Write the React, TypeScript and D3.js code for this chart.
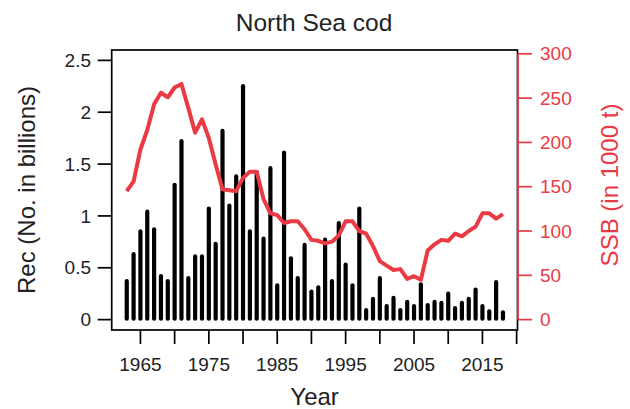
import React from "react";
import * as d3 from "d3";

// North Sea cod: recruitment (bars, left axis) and spawning stock biomass (line, right axis)
const years: number[] = d3.range(1963, 2019);

const recruitment: number[] = [
  0.39, 0.65, 0.87, 1.06, 0.89, 0.44, 0.39, 1.32, 1.74, 0.42,
  0.63, 0.63, 1.09, 0.75, 1.84, 1.12, 1.40, 2.27, 0.87, 1.44,
  0.80, 1.48, 0.35, 1.63, 0.61, 0.42, 0.74, 0.29, 0.33, 0.79,
  0.39, 0.95, 0.55, 0.35, 1.09, 0.11, 0.22, 0.42, 0.15, 0.23,
  0.11, 0.19, 0.15, 0.36, 0.16, 0.19, 0.18, 0.27, 0.13, 0.18,
  0.22, 0.31, 0.15, 0.10, 0.38, 0.09,
];

const ssb: number[] = [
  145, 156, 192, 214, 243, 256, 251, 262, 266, 239,
  211, 226, 205, 175, 147, 146, 145, 160, 167, 167,
  136, 120, 118, 109, 111, 111, 102, 90, 89, 86,
  88, 95, 111, 111, 100, 97, 83, 66, 61, 56,
  57, 46, 49, 45, 78, 85, 90, 89, 97, 94,
  100, 105, 120, 120, 114, 119,
];

const recTicks: number[] = [0, 0.5, 1, 1.5, 2, 2.5];
const recTickLabels: string[] = ["0", "0.5", "1", "1.5", "2", "2.5"];
const ssbTicks: number[] = [0, 50, 100, 150, 200, 250, 300];
const yearTicks: number[] = d3.range(1965, 2021, 5);
const yearLabels: number[] = [1965, 1975, 1985, 1995, 2005, 2015];

const W = 630;
const H = 409;
const plot = { left: 111.7, right: 517.5, top: 50, bottom: 330 };
const RED = "#EA3A44";
const INK = "#222222";
const FONT = "'Liberation Sans', Arial, Helvetica, sans-serif";

export default function App() {
  const x = d3.scaleLinear().domain([1960.8, 2020.2]).range([plot.left, 518]);
  const recMax = 2.5;
  const yRec = d3
    .scaleLinear()
    .domain([-0.04 * recMax, recMax * 1.04])
    .range([plot.bottom, plot.top]);
  const ssbMax = 292.6;
  const ySsb = d3
    .scaleLinear()
    .domain([-0.04 * ssbMax, ssbMax * 1.04])
    .range([plot.bottom, plot.top]);

  const ssbLine = d3
    .line<number>()
    .x((_, i) => x(years[i]))
    .y((d) => ySsb(d));

  const axisX = 518;
  const midY = (plot.top + plot.bottom) / 2;

  return (
    <svg
      width={W}
      height={H}
      style={{ position: "absolute", left: 0, top: 0, background: "#fff" }}
      fontFamily={FONT}
    >
      {/* title */}
      <text x={314} y={31} textAnchor="middle" fontSize={24.5} fill={INK}>
        North Sea cod
      </text>

      {/* recruitment bars */}
      <g stroke="#000" strokeWidth={4.2} strokeLinecap="round">
        {recruitment.map((v, i) => (
          <line
            key={years[i]}
            x1={x(years[i])}
            x2={x(years[i])}
            y1={yRec(0) - 1}
            y2={yRec(v) + 2}
          />
        ))}
      </g>

      {/* SSB line */}
      <path
        d={ssbLine(ssb) ?? ""}
        fill="none"
        stroke={RED}
        strokeWidth={4}
        strokeLinejoin="round"
      />

      {/* plot frame */}
      <rect
        x={plot.left}
        y={plot.top}
        width={plot.right - plot.left}
        height={plot.bottom - plot.top}
        fill="none"
        stroke="#000"
        strokeWidth={1.7}
      />

      {/* left axis */}
      <g stroke="#000" strokeWidth={1.7}>
        {recTicks.map((t) => (
          <line key={t} x1={plot.left - 14} x2={plot.left} y1={yRec(t)} y2={yRec(t)} />
        ))}
      </g>
      <g fontSize={19} fill={INK} textAnchor="end">
        {recTicks.map((t, i) => (
          <text key={t} x={91} y={yRec(t)} dy="0.35em">
            {recTickLabels[i]}
          </text>
        ))}
      </g>
      <text
        transform={`translate(35,${midY}) rotate(-90)`}
        textAnchor="middle"
        fontSize={24}
        fill={INK}
      >
        Rec (No. in billions)
      </text>

      {/* right axis */}
      <g stroke={RED} strokeWidth={1.7}>
        <line x1={axisX} x2={axisX} y1={ySsb(0)} y2={ySsb(300)} />
        {ssbTicks.map((t) => (
          <line key={t} x1={axisX} x2={axisX + 14} y1={ySsb(t)} y2={ySsb(t)} />
        ))}
      </g>
      <g fontSize={19} fill={RED} textAnchor="start">
        {ssbTicks.map((t) => (
          <text key={t} x={540} y={ySsb(t)} dy="0.35em">
            {t}
          </text>
        ))}
      </g>
      <text
        transform={`translate(618,${midY - 5}) rotate(-90)`}
        textAnchor="middle"
        fontSize={24}
        fill={RED}
      >
        SSB (in 1000 t)
      </text>

      {/* bottom axis */}
      <g stroke="#000" strokeWidth={1.7}>
        {yearTicks.map((t) => (
          <line key={t} x1={x(t)} x2={x(t)} y1={plot.bottom} y2={plot.bottom + 14} />
        ))}
      </g>
      <g fontSize={19} fill={INK} textAnchor="middle">
        {yearLabels.map((t) => (
          <text key={t} x={x(t)} y={370.5}>
            {t}
          </text>
        ))}
      </g>
      <text x={(plot.left + plot.right) / 2} y={404.5} textAnchor="middle" fontSize={24} fill={INK}>
        Year
      </text>
    </svg>
  );
}
